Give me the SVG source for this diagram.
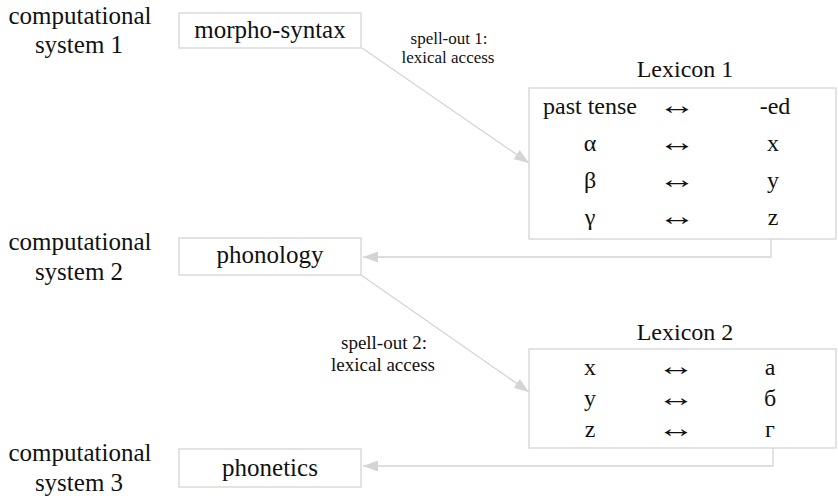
<svg xmlns="http://www.w3.org/2000/svg" width="838" height="502" viewBox="0 0 838 502" font-family="'Liberation Serif', 'DejaVu Serif', serif">
<style>
text{fill:#111;text-anchor:middle}
.m{font-size:24px}
.n{font-size:25px}
.ar{font-size:24px}
.s1{font-size:17px}
.s2{font-size:19px}
.box{fill:#fff;stroke:#d4d4d4;stroke-width:1.3}
.c{fill:none;stroke:#d4d4d4;stroke-width:1.3}
</style>
<defs>
<marker id="ah" viewBox="0 0 15 11" refX="15" refY="5.5" markerWidth="15" markerHeight="11" markerUnits="userSpaceOnUse" orient="auto">
<path d="M0,0 L15,5.5 L0,11 z" fill="#d4d4d4"/>
</marker>
</defs>
<g id="labels">
<text class="n" x="80" y="24">computational</text>
<text class="n" x="79" y="53">system 1</text>
<text class="n" x="80" y="250">computational</text>
<text class="n" x="79" y="280">system 2</text>
<text class="n" x="80" y="461">computational</text>
<text class="n" x="79" y="491">system 3</text>
</g>
<g id="connectors">
<line class="c" x1="362" y1="48" x2="529" y2="163" marker-end="url(#ah)"/>
<polyline class="c" points="771,239 771,257 363,257" marker-end="url(#ah)"/>
<line class="c" x1="361" y1="275" x2="529" y2="392" marker-end="url(#ah)"/>
<polyline class="c" points="773,448 773,466 363,466" marker-end="url(#ah)"/>
<text class="s1" x="449" y="44">spell-out 1:</text>
<text class="s1" x="448" y="63">lexical access</text>
<text class="s2" x="384" y="349">spell-out 2:</text>
<text class="s2" x="383" y="371">lexical access</text>
</g>
<g id="morpho-syntax">
<rect class="box" x="179" y="13" width="182" height="35"/>
<text class="n" x="270" y="38">morpho-syntax</text>
</g>
<g id="phonology">
<rect class="box" x="179" y="238" width="182" height="37"/>
<text class="n" x="270" y="263">phonology</text>
</g>
<g id="phonetics">
<rect class="box" x="179" y="449" width="182" height="38"/>
<text class="n" x="270" y="476">phonetics</text>
</g>
<g id="lexicon1">
<text class="m" x="685" y="77">Lexicon 1</text>
<rect class="box" x="529" y="88" width="307" height="151"/>
<text class="m" x="590" y="114">past tense</text>
<text class="ar" transform="translate(677,114) scale(1.6,1.1)">↔</text>
<text class="m" x="775" y="114">-ed</text>
<text class="m" x="590" y="151">α</text>
<text class="ar" transform="translate(677,151) scale(1.6,1.1)">↔</text>
<text class="m" x="773" y="151">x</text>
<text class="m" x="590" y="188">β</text>
<text class="ar" transform="translate(677,188) scale(1.6,1.1)">↔</text>
<text class="m" x="773" y="188">y</text>
<text class="m" x="590" y="225">γ</text>
<text class="ar" transform="translate(677,225) scale(1.6,1.1)">↔</text>
<text class="m" x="773" y="225">z</text>
</g>
<g id="lexicon2">
<text class="m" x="685" y="340">Lexicon 2</text>
<rect class="box" x="529" y="349" width="307" height="99"/>
<text class="m" x="590" y="375">x</text>
<text class="ar" transform="translate(676,375) scale(1.6,1.1)">↔</text>
<text class="m" x="770" y="375">а</text>
<text class="m" x="590" y="406">y</text>
<text class="ar" transform="translate(676,406) scale(1.6,1.1)">↔</text>
<text class="m" x="770" y="406">б</text>
<text class="m" x="590" y="437">z</text>
<text class="ar" transform="translate(676,437) scale(1.6,1.1)">↔</text>
<text class="m" x="770" y="437">г</text>
</g>
</svg>
